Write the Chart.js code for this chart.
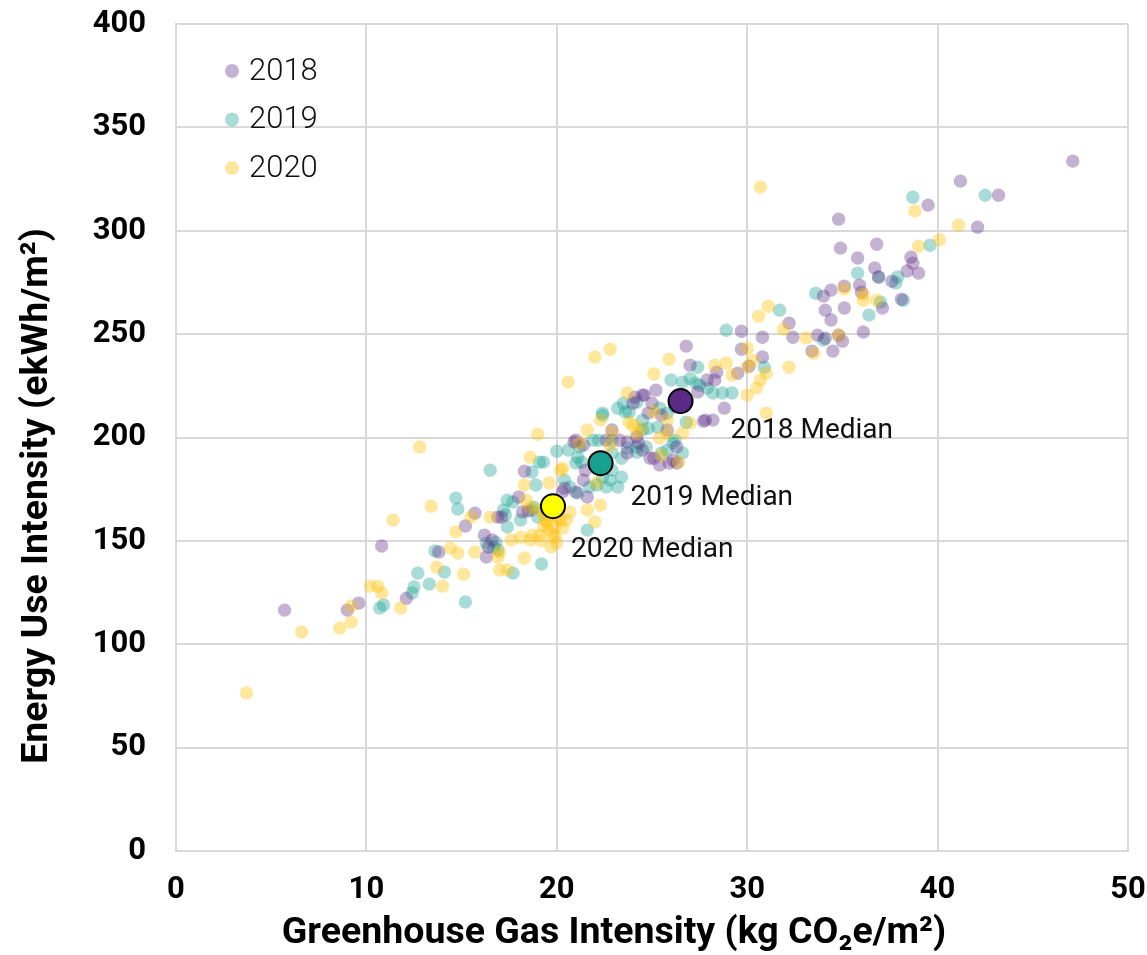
<!DOCTYPE html>
<html>
<head>
<meta charset="utf-8">
<script src="https://cdn.jsdelivr.net/npm/chart.js@4.4.1/dist/chart.umd.min.js"></script>
<style>
  html, body { margin: 0; padding: 0; background: #fff; }
</style>
</head>
<body>
<canvas id="chart" width="1147" height="955"></canvas>
<script>
// GHG intensity (kg CO2e/m2) and energy use intensity (ekWh/m2), one pair per building
const gei2018 = [5.7,9.6,9.0,10.8,12.1,13.8,15.2,15.7,16.9,17.1,16.2,16.6,16.4,16.3,18.0,18.2,18.3,18.5,20.4,20.9,20.3,21.0,21.6,21.0,21.4,21.5,21.4,22.4,22.6,23.3,23.7,24.3,24.5,24.0,24.1,24.6,25.2,25.0,24.8,25.5,25.1,25.4,26.1,26.3,26.3,27.0,26.8,27.4,28.3,27.8,28.2,28.4,27.9,28.8,29.7,29.7,30.8,30.1,29.5,30.8,32.2,32.4,33.4,34.1,34.8,35.0,34.5,34.0,34.4,34.1,34.4,35.1,35.1,34.8,34.9,35.8,35.9,36.0,36.1,36.8,36.7,36.9,37.6,37.1,38.1,38.4,38.6,38.7,39.0,39.5,41.2,42.1,43.2,47.1,33.7,25.9,22.9,24.2,25.8,27.7,23.7,24.5,24.9];
const eui2018 = [116.5,119.9,116.5,147.5,122.3,144.6,157.2,163.4,161.5,161.5,152.8,150.4,147.0,142.2,171.2,164.0,183.7,164.4,175.5,197.8,173.6,173.6,171.2,198.7,196.3,184.2,179.4,185.7,198.7,198.7,197.8,197.3,193.9,216.6,219.5,220.5,222.9,216.6,211.8,210.8,190.0,186.7,189.0,195.4,187.6,235.0,244.2,222.0,227.8,208.4,208.4,231.6,227.8,214.2,251.4,242.7,238.9,234.5,231.1,248.5,255.3,248.5,241.8,248.0,249.5,246.6,241.8,268.4,271.3,261.6,256.8,262.6,273.2,305.6,291.6,286.8,273.7,270.3,251.0,293.5,282.0,277.6,275.6,262.6,266.9,280.5,287.2,284.3,279.5,312.4,324.0,301.7,317.2,333.7,249.5,187.6,203.6,200.2,203.6,207.9,192.5,220.5,190.0];

const gei2019 = [10.7,10.9,12.4,12.5,12.7,13.3,13.6,14.1,14.7,14.8,15.2,16.5,16.7,16.8,16.3,17.2,17.4,17.7,17.3,17.4,17.7,18.1,18.7,18.9,18.7,19.0,18.8,19.1,19.2,16.9,20.0,20.4,20.7,21.1,21.0,20.6,21.1,21.3,21.2,21.9,22.2,22.9,21.6,21.7,22.1,22.6,22.4,22.9,22.8,23.4,23.2,22.9,23.4,23.7,24.2,24.7,25.5,25.8,24.8,24.5,25.3,22.4,23.6,23.2,23.8,24.2,24.5,26.2,25.8,25.4,26.2,26.6,26.1,26.0,26.6,27.3,27.9,28.2,27.4,27.5,26.8,28.7,29.2,28.9,30.9,31.7,33.6,34.0,35.8,36.4,36.9,37.9,37.8,37.0,38.2,39.6,38.7,42.5,19.3,24.2,23.5,22.4,27.0];
const eui2019 = [117.5,119.0,124.8,127.7,134.4,129.1,145.1,134.9,170.7,165.4,120.4,184.2,147.0,149.4,148.9,164.9,169.7,168.8,162.5,156.7,134.4,160.1,183.3,177.0,164.9,161.5,166.3,188.1,138.8,145.6,193.4,179.4,176.0,173.1,187.6,193.9,190.5,188.1,195.4,198.7,198.7,198.7,155.2,176.0,177.0,176.0,180.8,184.2,179.4,180.8,176.0,192.5,190.0,194.9,195.4,195.4,192.5,193.9,204.5,203.6,205.0,211.8,212.3,214.2,212.3,217.1,208.4,214.7,211.8,214.2,198.7,192.5,197.3,227.8,226.8,226.3,223.9,221.5,234.0,225.3,207.4,221.5,221.5,251.9,234.0,261.6,269.8,247.1,279.5,259.2,277.6,277.6,274.7,265.5,266.4,293.0,316.2,317.2,188.1,192.9,216.6,210.8,228.5];

const gei2020 = [3.7,6.6,8.6,9.2,9.2,10.2,10.6,10.8,11.4,11.8,12.8,13.4,13.7,14.0,14.4,14.7,14.8,15.1,15.5,15.7,16.5,16.9,17.0,17.0,17.4,17.6,18.1,18.3,18.3,18.4,18.6,18.6,18.7,18.6,19.0,19.0,19.1,19.3,19.5,19.6,19.8,19.9,20.2,19.6,20.2,20.6,20.7,21.2,21.6,21.6,22.0,22.0,22.1,22.3,22.3,22.8,22.9,23.7,23.8,24.4,24.2,25.1,25.1,25.4,25.5,25.8,25.8,25.9,26.4,26.6,27.0,28.3,28.9,29.2,30.0,30.0,30.0,30.3,30.5,30.7,30.7,30.6,31.0,31.0,31.1,31.9,32.2,33.1,34.8,35.1,36.1,36.1,36.8,38.8,39.0,40.1,41.1,20.3,22.8,33.5,19.4,20.1,19.3,19.9,20.3,19.6,20.5,19.2,20.0,19.7,24.0];
const eui2020 = [76.4,105.9,107.8,110.7,118.5,128.1,128.1,124.8,160.1,117.5,195.4,166.8,137.3,128.1,146.5,154.3,144.1,133.9,161.5,144.6,161.5,142.2,144.6,135.9,135.9,150.4,151.8,141.7,177.0,169.7,166.3,190.5,152.8,150.4,164.9,201.6,152.8,163.4,158.6,155.2,152.8,151.8,184.2,178.0,160.0,226.8,163.9,197.3,203.6,164.9,159.1,238.9,178.0,167.3,208.4,242.7,202.6,221.5,207.4,204.5,202.1,230.7,212.3,199.7,191.5,202.1,208.4,237.9,188.1,202.1,207.0,235.0,236.0,230.2,220.5,243.2,234.0,237.4,223.9,227.8,321.1,258.7,231.1,211.8,263.5,252.4,234.0,248.1,249.5,271.8,269.3,266.4,266.4,309.5,292.5,295.5,302.7,185.2,196.3,240.8,160.0,161.0,157.0,157.0,156.0,162.0,160.0,150.0,149.0,147.0,206.0];

const years = ['2018', '2019', '2020'];
const medianGei = [26.5, 22.3, 19.8];
const medianEui = [217.6, 187.6, 166.8];
const medianLabels = ['2018 Median', '2019 Median', '2020 Median'];

const xTicks = [0, 10, 20, 30, 40, 50];
const yTicks = [0, 50, 100, 150, 200, 250, 300, 350, 400];
const xTitle = 'Greenhouse Gas Intensity (kg CO\u2082e/m\u00B2)';
const yTitle = 'Energy Use Intensity (ekWh/m\u00B2)';

const pointColors = ['rgba(92,45,132,0.37)', 'rgba(23,160,145,0.37)', 'rgba(255,192,0,0.38)'];
const medianColors = ['#5b2a86', '#179f90', '#ffff00'];

const toPoints = (xs, ys) => xs.map((v, i) => ({ x: v, y: ys[i] }));

// legend, median labels and axis titles
const labelsPlugin = {
    id: 'labelsPlugin',
    afterDatasetsDraw(chart) {
        const { ctx, chartArea, scales: { x, y } } = chart;
        ctx.save();
        ctx.textBaseline = 'middle';
        ctx.textAlign = 'left';

        // median labels
        const offsets = [[50, 30], [30, 35], [18, 44]];
        ctx.font = '400 28px Roboto';
        ctx.fillStyle = '#111';
        medianLabels.forEach((t, i) => {
            const px = x.getPixelForValue(medianGei[i]);
            const py = y.getPixelForValue(medianEui[i]);
            ctx.fillText(t, px + offsets[i][0], py + offsets[i][1]);
        });

        // legend
        ctx.font = '300 31px Roboto';
        years.forEach((yr, i) => {
            const lx = chartArea.left + 56;
            const ly = chartArea.top + 47 + i * 48.5;
            ctx.beginPath();
            ctx.arc(lx, ly, 7, 0, Math.PI * 2);
            ctx.fillStyle = pointColors[i];
            ctx.fill();
            ctx.fillStyle = '#111';
            ctx.fillText(yr, lx + 17, ly + 1);
        });

        // axis titles
        ctx.fillStyle = '#000';
        ctx.font = 'bold 37.5px Roboto';
        ctx.textAlign = 'center';
        ctx.fillText(xTitle, 614, 934);
        ctx.translate(38, 496);
        ctx.rotate(-Math.PI / 2);
        ctx.fillText(yTitle, 0, 0);
        ctx.restore();
    }
};

const ctx = document.getElementById('chart').getContext('2d');

new Chart(ctx, {
    type: 'scatter',
    data: {
        datasets: [
            {
                label: 'Medians',
                data: toPoints(medianGei, medianEui),
                pointBackgroundColor: medianColors,
                pointBorderColor: '#000',
                pointBorderWidth: 2,
                pointRadius: 12,
                pointHoverRadius: 12,
                order: 0
            },
            {
                label: years[2],
                data: toPoints(gei2020, eui2020),
                backgroundColor: pointColors[2],
                borderWidth: 0,
                pointRadius: 6.7,
                pointHoverRadius: 6.7,
                order: 1
            },
            {
                label: years[0],
                data: toPoints(gei2018, eui2018),
                backgroundColor: pointColors[0],
                borderWidth: 0,
                pointRadius: 6.7,
                pointHoverRadius: 6.7,
                order: 2
            },
            {
                label: years[1],
                data: toPoints(gei2019, eui2019),
                backgroundColor: pointColors[1],
                borderWidth: 0,
                pointRadius: 6.7,
                pointHoverRadius: 6.7,
                order: 3
            }
        ]
    },
    options: {
        responsive: false,
        animation: false,
        layout: { autoPadding: false, padding: { top: 24, right: 19, left: 0, bottom: 0 } },
        plugins: {
            legend: { display: false },
            tooltip: { enabled: false }
        },
        scales: {
            x: {
                type: 'linear',
                min: xTicks[0],
                max: xTicks[xTicks.length - 1],
                afterBuildTicks: axis => { axis.ticks = xTicks.map(v => ({ value: v })); },
                afterFit: axis => {
                    axis.height = 104;
                    axis.paddingLeft = 0;
                    axis.paddingRight = 0;
                },
                ticks: {
                    padding: 21,
                    color: '#000',
                    font: { family: 'Roboto', size: 31, weight: 'bold' }
                },
                grid: { color: '#d9d9d9', lineWidth: 2, drawTicks: false },
                border: { color: '#d9d9d9', width: 2 }
            },
            y: {
                type: 'linear',
                min: yTicks[0],
                max: yTicks[yTicks.length - 1],
                afterBuildTicks: axis => { axis.ticks = yTicks.map(v => ({ value: v })); },
                afterFit: axis => {
                    axis.width = 176;
                    axis.paddingTop = 0;
                    axis.paddingBottom = 0;
                },
                ticks: {
                    padding: 30,
                    color: '#000',
                    font: { family: 'Roboto', size: 31, weight: 'bold' }
                },
                grid: { color: '#d9d9d9', lineWidth: 2, drawTicks: false },
                border: { color: '#d9d9d9', width: 2 }
            }
        }
    },
    plugins: [labelsPlugin]
});
</script>
</body>
</html>
